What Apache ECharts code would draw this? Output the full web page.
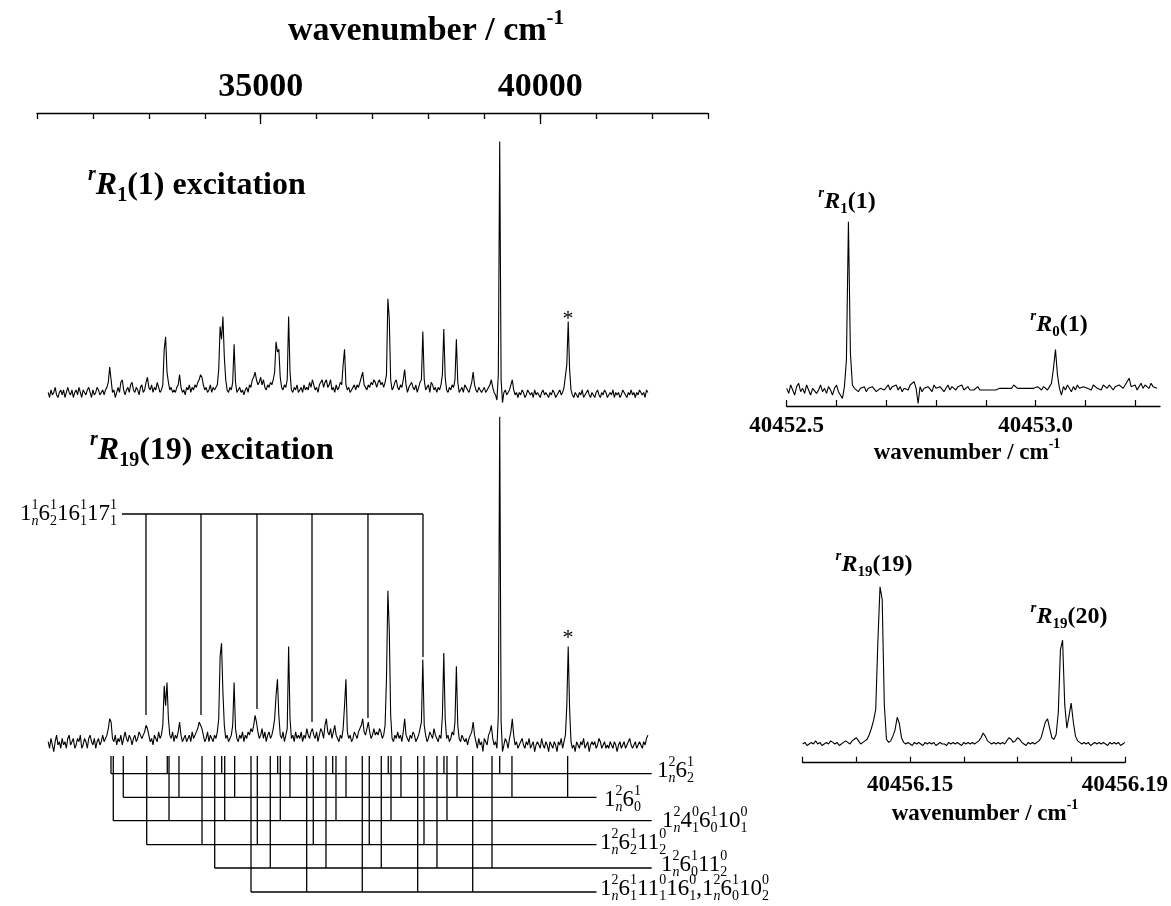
<!DOCTYPE html>
<html>
<head>
<meta charset="utf-8">
<script src="https://cdn.jsdelivr.net/npm/echarts@6/dist/echarts.min.js"></script>
<style>
html, body { margin: 0; padding: 0; background: #fff; }
#chart { width: 1171px; height: 906px; }
</style>
</head>
<body>
<div id="chart"></div>
<script>
// survey spectra, both on a 25 cm-1 grid starting at 31200 cm-1
var surveyStart = 31200, surveyStep = 25;
var traceR1 = [
  1,-1,2,0,1,3,0,-1,1,2, 0,2,-1,1,3,1,0,2,-1,1, 2,0,3,1,-1,2,1,0,2,3, 1,-1,2,0,1,3,2,0,1,2,
  0,2,3,5,11,6,1,2,-1,1, 3,1,5,6,2,0,2,3,1,4, 5,2,1,3,2,0,3,4,1,2, 5,7,3,2,4,1,3,2,5,3,
  1,2,4,18,23,9,5,2,3,1, 2,1,3,4,8,3,1,2,0,3, 2,4,1,3,2,4,3,5,6,8, 7,4,2,3,1,2,4,1,3,2,
  2,4,10,27,22,31,15,6,2,1, 3,2,5,20,5,1,2,3,1,2, 0,2,3,1,4,3,6,7,9,6, 4,5,7,4,6,3,2,4,3,5,
  4,6,9,21,17,18,7,3,2,4, 3,6,31,9,2,1,3,2,4,1, 2,3,1,4,2,3,2,5,3,6, 4,2,3,1,4,5,6,3,5,6,
  3,4,6,2,3,1,4,2,3,5, 4,12,18,4,2,3,1,2,3,4, 2,4,3,5,7,9,4,3,2,4, 3,5,4,6,5,3,5,6,4,5,
  3,5,8,38,30,6,2,3,5,6, 3,2,4,3,6,10,4,1,3,4, 5,3,2,4,1,3,5,6,25,6, 2,3,4,1,5,4,2,3,1,3,
  2,4,8,26,7,2,1,3,2,4, 3,6,22,5,1,2,3,1,4,3, 2,1,3,5,9,4,2,1,3,2, 1,2,3,1,2,3,4,6,3,1,
  0,-2,8,100,6,-3,1,2,0,1, 2,4,6,2,0,1,-1,1,0,2, 1,-1,0,2,1,0,1,-1,2,0, 1,0,-1,1,2,0,1,0,-1,1,
  0,2,1,-1,0,1,2,0,1,3, 3,12,29,10,2,0,-1,1,0,-1, 1,0,2,-1,0,1,2,0,-1,1, 0,-1,1,2,0,-1,1,0,2,1,
  -1,0,1,0,2,-1,1,0,1,-1, 0,2,1,0,-1,1,0,2,0,1, -1,1,0,2,1,0,1,-1,2,1
];
var traceR19 = [
  1,-1,2,0,-2,1,3,0,1,-1, 2,0,1,-1,2,3,0,1,2,-1, 0,2,1,3,-1,0,2,1,-1,2, 3,1,0,2,-1,1,2,0,1,3,
  1,2,3,5,8,7,2,1,3,0, 2,1,3,0,2,4,2,1,3,2, 0,2,3,1,2,4,3,2,3,4, 6,5,3,1,2,0,3,2,1,4,
  2,3,6,18,12,19,8,3,2,4, 1,3,2,4,7,3,1,2,3,1, 2,3,1,4,2,3,4,5,7,7, 5,3,1,2,4,1,3,2,1,3,
  2,4,8,27,31,16,6,2,3,1, 2,3,6,19,5,2,1,3,2,4, 1,3,2,4,3,5,4,6,9,7, 4,2,3,5,2,4,1,3,4,2,
  3,5,8,15,20,9,3,2,4,1, 3,5,30,8,2,3,1,4,2,3, 2,4,1,3,2,5,3,2,4,5, 3,2,4,1,3,5,4,2,6,8,
  4,3,5,2,4,6,3,2,1,3, 2,5,12,20,4,2,3,1,2,4, 3,2,4,5,6,8,4,3,5,7, 4,2,3,5,3,4,3,5,4,2,
  3,6,20,47,35,9,2,1,3,2, 4,2,3,1,4,8,3,2,1,3, 2,4,3,1,2,3,5,7,26,6, 3,1,2,4,3,2,5,3,2,1,
  3,2,9,28,8,2,3,1,2,4, 3,7,24,6,2,1,3,2,1,2, 0,2,3,4,7,3,1,-1,2,0, 1,-2,2,1,0,3,4,6,2,0,
  1,-1,9,100,7,-2,0,2,1,-1, 2,4,8,3,0,1,-1,0,1,2, 0,-1,1,0,2,-1,0,1,-2,0, 1,0,-1,2,0,-1,1,0,-2,1,
  0,-1,1,0,-2,1,0,2,-1,1, 3,12,30,11,1,-1,0,-2,1,0, -1,1,0,2,-1,0,1,-2,0,1, 0,1,-1,0,2,1,-1,0,1,-1,
  0,-1,1,0,-1,1,0,-2,0,1, -1,0,1,-1,0,1,2,0,-1,0, 1,-1,0,1,0,-1,1,0,2,3
];

// high resolution excitation scans
var scanR1Start = 40452.5, scanR1Step = 0.004;
var scanR1 = [
  1,-2,3,0,-3,2,4,-1,1,-2, 3,0,-3,1,2,-2,0,3,-1,1, -2,2,0,-3,1,3,-1,0,-5,2, 18,100,22,3,1,0,-1,1,0,2,
  -1,1,0,2,1,-1,0,1,2,0, 1,3,0,2,1,3,0,2,-1,1, 2,0,3,2,5,1,-8,2,-1,1, 0,2,1,-1,3,1,0,2,1,-1,
  1,3,0,2,1,0,2,1,3,0, 1,2,0,1,0,1,2,0,1,0, 1,0,1,0,1,0,0,1,0,1, 0,1,0,1,3,4,1,0,1,0,
  1,0,1,0,1,0,2,1,0,2, 1,0,2,4,13,24,9,1,-3,2, 0,3,1,-1,2,0,3,1,0,2, 3,1,2,0,3,4,1,2,0,3,
  2,1,3,4,0,2,1,3,2,1, 3,4,7,2,1,3,0,2,4,1, 3,2,1,4,2,3,1
];
var scanR19Start = 40456.13, scanR19Step = 0.0004;
var scanR19 = [
  0,1,-1,0,1,0,2,0,1,-1, 0,1,0,2,1,0,1,-1,0,1, 2,1,0,2,3,4,2,0,1,2, 3,6,10,15,22,65,100,92,25,3,
  1,2,5,9,17,13,4,1,0,1, 0,-1,1,0,1,0,-1,1,0,1, 0,1,-1,0,1,0,0,-1,1,0, 1,0,1,0,-1,1,0,1,0,1,
  0,1,2,4,7,5,2,1,0,1, 0,1,0,1,0,2,4,3,1,2, 4,3,1,0,-1,1,0,1,0,1, 2,4,9,14,16,10,4,3,6,20,
  60,66,25,10,18,26,14,5,2,1, 0,1,0,1,-1,0,1,0,1,0, 1,0,-1,1,0,1,0,1,-1,0, 1
];

// tick values
var surveyTicks = [31000,32000,33000,34000,35000,36000,37000,38000,39000,40000,41000,42000,43000];
var surveyLabels = [35000, 40000];
var scanR1Ticks = [40452.5,40452.6,40452.7,40452.8,40452.9,40453.0,40453.1,40453.2];
var scanR1Labels = [40452.5, 40453.0];
var scanR19Ticks = [40456.13,40456.14,40456.15,40456.16,40456.17,40456.18,40456.19];
var scanR19Labels = [40456.15, 40456.19];

// assignments (band positions, cm-1)
var comb16_17 = [32949, 33933, 34934, 35918, 36919, 37903];
var comb16_17Tops = [9.1, 9.1, 11, 7, 8.2, 26.8];
var prog6_12 = [32323, 33330, 34303, 35304, 36288, 37282, 38278, 39275];
var prog6_10 = [32543, 33539, 34535, 35524, 36526, 37509, 38511, 39494, 40490];
var prog4_6_10 = [32364, 33361, 34357, 35351, 36347, 37331, 38332];
var prog6_11_12 = [32962, 33951, 34940, 35941, 36942, 37921];
var prog6_11_10 = [34178, 35172, 36168, 37157, 38153, 39137];
var prog6_11_16 = [34827, 35823, 36817, 37808, 38792];

function onGrid(start, step, vals) {
  return vals.map(function (v, i) { return [start + i * step, v]; });
}

// ---- layout ----
var SERIF = '"Liberation Serif", "Times New Roman", serif';
var LAD_TOP = -3.35;
var ladLevels = [-8.74, -15.93, -23.06, -30.37, -37.47, -44.78];
var ladEnds = [41993, 41006, 41993, 41006, 41993, 41006];
var combLevel = 70.36, combStart = 32520;

var segs = [];
[prog6_12, prog6_10, prog4_6_10, prog6_11_12, prog6_11_10, prog6_11_16].forEach(function (p, k) {
  segs.push([p[0], ladLevels[k], ladEnds[k], ladLevels[k]]);
  p.forEach(function (w) { segs.push([w, LAD_TOP, w, ladLevels[k]]); });
});
segs.push([combStart, combLevel, comb16_17[comb16_17.length - 1], combLevel]);
comb16_17.forEach(function (w, i) { segs.push([w, combLevel, w, comb16_17Tops[i]]); });

// text with stacked super/subscripts
var mctx = document.createElement('canvas').getContext('2d');
function fontOf(size, bold, ital) {
  return (ital ? 'italic ' : '') + (bold ? 'bold ' : '') + size + 'px ' + SERIF;
}
function wOf(s, size, bold, ital) { mctx.font = fontOf(size, bold, ital); return mctx.measureText(s).width; }
function piece(s, x, y, size, bold, ital) {
  return { type: 'text', x: x, y: y, silent: true,
    style: { text: s, font: fontOf(size, bold, ital), fill: '#000',
      textAlign: 'left', textVerticalAlign: 'middle', align: 'left', verticalAlign: 'middle' } };
}
function mathText(tokens, size, bold, x, y, align) {
  var ss = Math.round(size * 0.62), cx = 0, kids = [];
  tokens.forEach(function (t) {
    if (t.b) { kids.push(piece(t.b, cx, 0, size, bold, t.bi)); cx += wOf(t.b, size, bold, t.bi); }
    var w = 0;
    if (t.sp) { kids.push(piece(t.sp, cx, -size * 0.36, ss, bold, t.spi)); w = wOf(t.sp, ss, bold, t.spi); }
    if (t.sb) { kids.push(piece(t.sb, cx, size * 0.3, ss, bold, t.sbi)); w = Math.max(w, wOf(t.sb, ss, bold, t.sbi)); }
    cx += w;
  });
  var off = align === 'center' ? -cx / 2 : (align === 'right' ? -cx : 0);
  return { type: 'group', x: x + off, y: y, children: kids };
}
function vib(n, up, lo) { return { b: n, sp: up, sb: lo, sbi: lo === 'n' }; }
var wavenum = [{ b: 'wavenumber / cm' }, { sp: '-1' }];

var graphics = [
  mathText(wavenum, 34, true, 426, 31, 'center'),
  mathText([{ sp: 'r', spi: true }, { b: 'R', bi: true, sb: '1' }, { b: '(1) excitation' }], 32, true, 88, 186, 'left'),
  mathText([{ sp: 'r', spi: true }, { b: 'R', bi: true, sb: '19' }, { b: '(19) excitation' }], 32, true, 90, 451, 'left'),
  mathText([{ b: '*' }], 22, false, 568, 319, 'center'),
  mathText([{ b: '*' }], 22, false, 568, 638, 'center'),
  mathText([vib('1','1','n'), vib('6','1','2'), vib('16','1','1'), vib('17','1','1')], 23, false, 117, 514, 'right'),
  mathText([vib('1','2','n'), vib('6','1','2')], 23, false, 657, 771, 'left'),
  mathText([vib('1','2','n'), vib('6','1','0')], 23, false, 604, 800, 'left'),
  mathText([vib('1','2','n'), vib('4','0','1'), vib('6','1','0'), vib('10','0','1')], 23, false, 662, 821, 'left'),
  mathText([vib('1','2','n'), vib('6','1','2'), vib('11','0','2')], 23, false, 600, 843, 'left'),
  mathText([vib('1','2','n'), vib('6','1','0'), vib('11','0','2')], 23, false, 661, 865, 'left'),
  mathText([vib('1','2','n'), vib('6','1','1'), vib('11','0','1'), vib('16','0','1'), { b: ',' },
            vib('1','2','n'), vib('6','1','0'), vib('10','0','2')], 23, false, 600, 889, 'left'),
  mathText([{ sp: 'r', spi: true }, { b: 'R', bi: true, sb: '1' }, { b: '(1)' }], 24, true, 847, 202, 'center'),
  mathText([{ sp: 'r', spi: true }, { b: 'R', bi: true, sb: '0' }, { b: '(1)' }], 24, true, 1059, 325, 'center'),
  mathText([{ sp: 'r', spi: true }, { b: 'R', bi: true, sb: '19' }, { b: '(19)' }], 24, true, 874, 565, 'center'),
  mathText([{ sp: 'r', spi: true }, { b: 'R', bi: true, sb: '19' }, { b: '(20)' }], 24, true, 1069, 617, 'center'),
  mathText(wavenum, 23, true, 967, 453, 'center'),
  mathText(wavenum, 23, true, 985, 814, 'center')
];

var axisFont = { fontFamily: SERIF, fontWeight: 'bold', color: '#000' };
var blackLine = { show: true, onZero: false, lineStyle: { color: '#000', width: 1.4 } };

var dom = document.getElementById('chart');
var myChart = echarts.init(dom, null, { renderer: 'canvas' });
var option = {
  animation: false,
  backgroundColor: '#fff',
  grid: [
    { left: 37, width: 671, top: 113, height: 292.1 },
    { left: 37, width: 671, top: 405.2, height: 494.1 },
    { left: 786.7, width: 373.3, top: 200, height: 206 },
    { left: 802.7, width: 324, top: 560, height: 202.7 },
    { left: 37, width: 671, top: 113, height: 292.1 }
  ],
  xAxis: [
    { type: 'value', gridIndex: 0, position: 'top', min: 31000, max: 43000,
      axisLine: blackLine, splitLine: { show: false },
      axisTick: { inside: true, length: 6, customValues: surveyTicks, lineStyle: { color: '#000', width: 1.3 } },
      axisLabel: Object.assign({ customValues: surveyLabels, fontSize: 34, margin: 9,
        formatter: function (v) { return v.toFixed(0); } }, axisFont) },
    { type: 'value', gridIndex: 4, position: 'top', min: 31000, max: 43000,
      axisLine: { show: false, onZero: false }, splitLine: { show: false }, axisLabel: { show: false },
      axisTick: { inside: true, length: 11, customValues: surveyLabels, lineStyle: { color: '#000', width: 1.3 } } },
    { type: 'value', gridIndex: 1, min: 31000, max: 43000, show: false },
    { type: 'value', gridIndex: 2, position: 'bottom', min: 40452.5, max: 40453.25,
      axisLine: blackLine, splitLine: { show: false },
      axisTick: { inside: true, length: 6, customValues: scanR1Ticks, lineStyle: { color: '#000', width: 1.2 } },
      axisLabel: Object.assign({ customValues: scanR1Labels, fontSize: 23, margin: 9,
        formatter: function (v) { return v.toFixed(1); } }, axisFont) },
    { type: 'value', gridIndex: 3, position: 'bottom', min: 40456.13, max: 40456.19,
      axisLine: blackLine, splitLine: { show: false },
      axisTick: { inside: true, length: 6, customValues: scanR19Ticks, lineStyle: { color: '#000', width: 1.2 } },
      axisLabel: Object.assign({ customValues: scanR19Labels, fontSize: 23, margin: 11,
        formatter: function (v) { return v.toFixed(2); } }, axisFont) }
  ],
  yAxis: [
    { type: 'value', gridIndex: 0, min: -4, max: 111.3, show: false },
    { type: 'value', gridIndex: 1, min: -47, max: 103.5, show: false },
    { type: 'value', gridIndex: 2, min: -9.5, max: 112.9, show: false },
    { type: 'value', gridIndex: 3, min: -11.9, max: 117.0, show: false },
    { type: 'value', gridIndex: 4, min: 0, max: 1, show: false }
  ],
  series: [
    { type: 'line', xAxisIndex: 0, yAxisIndex: 0, data: onGrid(surveyStart, surveyStep, traceR1),
      showSymbol: false, lineStyle: { color: '#000', width: 1.1 } },
    { type: 'line', xAxisIndex: 2, yAxisIndex: 1, data: onGrid(surveyStart, surveyStep, traceR19),
      showSymbol: false, lineStyle: { color: '#000', width: 1.1 } },
    { type: 'line', xAxisIndex: 3, yAxisIndex: 2, data: onGrid(scanR1Start, scanR1Step, scanR1),
      showSymbol: false, lineStyle: { color: '#000', width: 1.1 } },
    { type: 'line', xAxisIndex: 4, yAxisIndex: 3, data: onGrid(scanR19Start, scanR19Step, scanR19),
      showSymbol: false, lineStyle: { color: '#000', width: 1.1 } },
    { type: 'custom', xAxisIndex: 2, yAxisIndex: 1, data: segs, silent: true, clip: false,
      encode: { x: [0, 2], y: [1, 3] },
      renderItem: function (params, api) {
        var a = api.coord([api.value(0), api.value(1)]);
        var b = api.coord([api.value(2), api.value(3)]);
        return { type: 'line', shape: { x1: a[0], y1: a[1], x2: b[0], y2: b[1] },
          style: { stroke: '#000', lineWidth: 1.3 } };
      } }
  ],
  graphic: graphics
};
option && typeof option === 'object' && myChart.setOption(option, true);
</script>
</body>
</html>
